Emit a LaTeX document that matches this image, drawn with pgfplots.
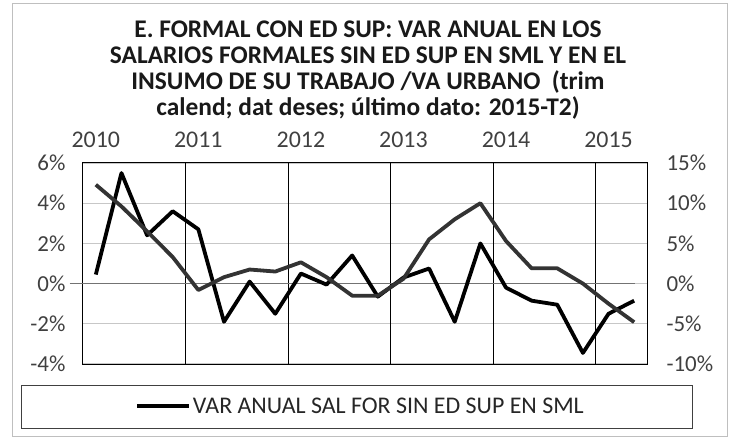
\documentclass[border=0pt]{standalone}
\usepackage{fontspec}
\setmainfont{Carlito}
\usepackage{pgfplots}
\usepackage{pgfplotstable}
\pgfplotsset{compat=1.18}

% quarters 2010-T1 ... 2015-T2 as 0..21
\pgfplotstableread{
k val
0 0.45
1 5.5
2 2.4
3 3.6
4 2.7
5 -1.9
6 0.1
7 -1.5
8 0.5
9 -0.05
10 1.4
11 -0.65
12 0.3
13 0.75
14 -1.9
15 2.0
16 -0.2
17 -0.85
18 -1.05
19 -3.45
20 -1.5
21 -0.85
}\salsml

\pgfplotstableread{
k val
0 12.3
1 9.6
2 6.5
3 3.3
4 -0.8
5 0.8
6 1.75
7 1.5
8 2.65
9 0.8
10 -1.5
11 -1.5
12 0.6
13 5.5
14 8.0
15 10.0
16 5.3
17 1.9
18 1.9
19 0.0
20 -2.5
21 -4.8
}\insumo

\definecolor{ticktext}{HTML}{404040}

\begin{document}
\begin{tikzpicture}
\path[use as bounding box] (-83bp,-74bp) rectangle (653bp,364bp);
\draw[black!25, line width=0.8bp] (-71bp,-72bp) rectangle (644bp,361bp);

\begin{axis}[
    at={(0,0)}, anchor=south west,
    width=564bp, height=201bp, scale only axis,
    xmin=-0.5, xmax=21.5, ymin=-4, ymax=6,
    clip=false,
    axis line style={black, line width=1bp},
    major tick length=0pt,
    xtick={0,4,8,12,16,20},
    xticklabels={2010,2011,2012,2013,2014,2015},
    xticklabel pos=top,
    xticklabel style={font=\fontsize{24}{28}\selectfont, text=ticktext, anchor=base, yshift=15bp},
    extra x ticks={3.5,7.5,11.5,15.5,19.5},
    extra x tick labels={},
    extra x tick style={grid=major, major grid style={black, line width=1bp}},
    ytick={-4,-2,0,2,4,6},
    yticklabels={-4\%,-2\%,0\%,2\%,4\%,6\%},
    yticklabel pos=left,
    yticklabel shift=14bp,
    yticklabel style={font=\fontsize{23}{27}\selectfont, text=ticktext},
    ymajorgrids,
    major grid style={black!22, line width=1.2bp},
    legend style={draw=none, fill=none, at={(axis description cs:0.492,-0.209)}, anchor=center,
        font=\fontsize{24}{28}\selectfont, text=black!85, inner sep=0pt,
        nodes={inner sep=2bp}},
    legend image code/.code={\draw[#1, line width=3.8bp] (0bp,0bp) -- (52bp,0bp);},
]
\draw[black!55, line width=1.2bp] (axis cs:-1.02,0) -- (axis cs:21.04,0);
\addplot[black, line width=3.8bp, line join=round] table[x=k, y=val] {\salsml};
\addlegendentry{VAR ANUAL SAL FOR SIN ED SUP EN SML}
\end{axis}

\begin{axis}[
    at={(0,0)}, anchor=south west,
    width=564bp, height=201bp, scale only axis,
    xmin=-0.5, xmax=21.5, ymin=-10, ymax=15,
    axis x line=none,
    axis y line*=right,
    y axis line style={draw=none},
    major tick length=0pt,
    ytick={-10,-5,0,5,10,15},
    yticklabels={-10\%,-5\%,0\%,5\%,10\%,15\%},
    yticklabel shift=16bp,
    yticklabel style={font=\fontsize{23}{27}\selectfont, text=ticktext},
]
\addplot[black!80, line width=3.8bp, line join=round] table[x=k, y=val] {\insumo};
\end{axis}

\draw[black!75, line width=1bp] (-61bp,-21bp) rectangle (609bp,-64bp);

\begin{scope}[font=\bfseries\fontsize{25.5}{28}\selectfont, text=black!90]
\node[anchor=base] at (285bp,326bp) {E. FORMAL CON ED SUP: VAR ANUAL EN LOS};
\node[anchor=base] at (285bp,300bp) {SALARIOS FORMALES SIN ED SUP EN SML Y EN EL};
\node[anchor=base] at (285bp,274bp) {INSUMO DE SU TRABAJO /VA URBANO\ \ (trim};
\node[anchor=base] at (285bp,248bp) {calend; dat deses; último dato: 2015-T2)};
\end{scope}
\end{tikzpicture}
\end{document}
